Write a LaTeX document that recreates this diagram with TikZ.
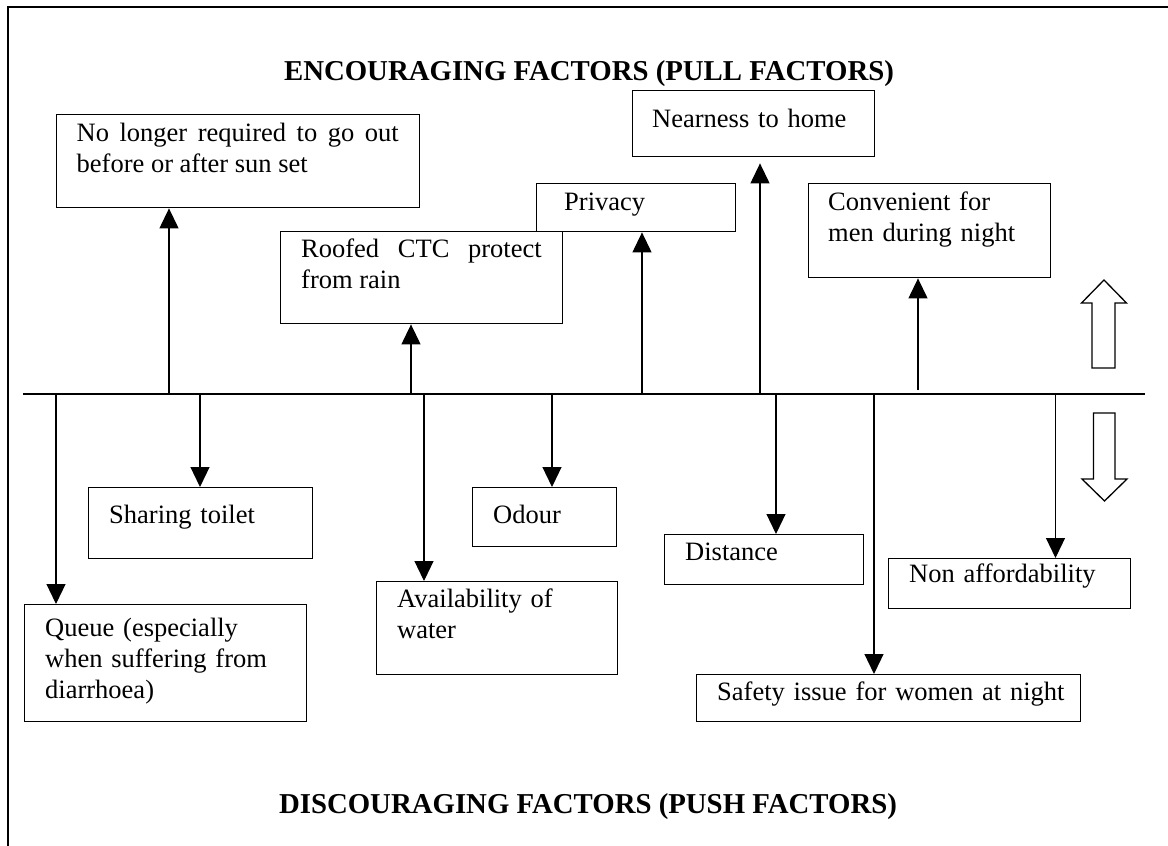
\documentclass[tikz,border=0pt]{standalone}
\usepackage{fontspec}
\setmainfont{Liberation Serif}
\usetikzlibrary{arrows.meta}
\begin{document}
\begin{tikzpicture}[x=1pt,y=-1pt,
  factor/.style={draw, line width=1.4pt, inner sep=0pt, anchor=north west},
  ftext/.style={anchor=base west, inner sep=0pt, font=\fontsize{26.5}{31}\selectfont, text width=#1, align=left},
  jtext/.style={ftext=#1, align=justify},
  heading/.style={font=\fontsize{28.8}{33}\selectfont\bfseries, inner sep=0pt, anchor=base},
  conn/.style={line width=1.2pt, -{Triangle[length=20pt,width=19pt]}},
  rule/.style={line width=1.3pt},
  hollow/.style={line width=1.3pt, line join=miter}
]
\useasboundingbox (0,0) rectangle (1168,846);

% frame
\coordinate (fb) at (8,846);
\coordinate (ftl) at (8,7);
\coordinate (ftr) at (1168,7);
\draw[line width=1.3pt] (fb) -- (ftl) -- (ftr);

% headings
\node[heading] (pull) at (589,80) {ENCOURAGING FACTORS (PULL FACTORS)};
\node[heading] (push) at (588,813) {DISCOURAGING FACTORS (PUSH FACTORS)};

% central axis
\coordinate (axL) at (23,394);
\coordinate (axR) at (1145,394);
\draw[rule] (axL) -- (axR);

% pull factors (above the axis)
\node[factor, minimum width=363pt, minimum height=93pt] (nolonger) at (56,114) {};
\node[jtext=322pt] (nolongerT) at (76.5,141) {No longer required to go out\linebreak before or after sun set};

\node[factor, minimum width=199pt, minimum height=48pt] (privacy) at (536,183) {};
\node[ftext=160pt] (privacyT) at (564,210) {Privacy};

\node[factor, minimum width=282pt, minimum height=92pt] (roofed) at (280,231) {};
\node[jtext=240.5pt] (roofedT) at (301,257) {Roofed CTC protect\linebreak from rain};

\node[factor, minimum width=242pt, minimum height=66pt] (nearness) at (632,90) {};
\node[ftext=215pt] (nearnessT) at (652,127) {Nearness to home};

\node[factor, minimum width=242pt, minimum height=94pt] (convenient) at (808,183) {};
\node[ftext=215pt] (convenientT) at (828,210) {Convenient for\\ men during night};

% push factors (below the axis)
\node[factor, minimum width=282pt, minimum height=117pt] (queue) at (23.7,604) {};
\node[ftext=250pt] (queueT) at (45,636) {Queue (especially\\ when suffering from\\ diarrhoea)};

\node[factor, minimum width=224pt, minimum height=71pt] (sharing) at (88,487) {};
\node[ftext=200pt] (sharingT) at (109,523) {Sharing toilet};

\node[factor, minimum width=241pt, minimum height=93pt] (avail) at (376,581) {};
\node[ftext=215pt] (availT) at (397,607) {Availability of\\ water};

\node[factor, minimum width=144pt, minimum height=59pt] (odour) at (472,487) {};
\node[ftext=120pt] (odourT) at (493,523) {Odour};

\node[factor, minimum width=199pt, minimum height=50pt] (distance) at (664,534) {};
\node[ftext=170pt] (distanceT) at (685,560) {Distance};

\node[factor, minimum width=384pt, minimum height=47pt] (safety) at (696,674) {};
\node[ftext=360pt] (safetyT) at (717,700) {Safety issue for women at night};

\node[factor, minimum width=242pt, minimum height=50pt] (nonaff) at (888,558) {};
\node[ftext=215pt] (nonaffT) at (909,582) {Non affordability};

% connector roots on the axis
\coordinate (u1) at (169,394);
\coordinate (u2) at (411,394);
\coordinate (u3) at (642,394);
\coordinate (u4) at (760,394);
\coordinate (u5) at (918,390);
\coordinate (d1) at (56,394);
\coordinate (d2) at (200,394);
\coordinate (d3) at (424,394);
\coordinate (d4) at (552,394);
\coordinate (d5) at (776,394);
\coordinate (d6) at (874,394);
\coordinate (d7) at (1055.5,394);

% upward connectors
\draw[conn] (u1) -- (u1 |- nolonger.south);
\draw[conn] (u2) -- (u2 |- roofed.south);
\draw[conn] (u3) -- (u3 |- privacy.south);
\draw[conn, shorten >=6pt] (u4) -- (u4 |- nearness.south);
\draw[conn] (u5) -- (u5 |- convenient.south);

% downward connectors
\draw[conn] (d1) -- (d1 |- queue.north);
\draw[conn] (d2) -- (d2 |- sharing.north);
\draw[conn] (d3) -- (d3 |- avail.north);
\draw[conn] (d4) -- (d4 |- odour.north);
\draw[conn] (d5) -- (d5 |- distance.north);
\draw[conn] (d6) -- (d6 |- safety.north);
\draw[conn] (d7) -- (d7 |- nonaff.north);

% hollow direction arrows
\draw[hollow] (1092,368) -- (1092,303) -- (1081.5,303) -- (1104,280) -- (1126.5,303) -- (1115,303) -- (1115,368) -- cycle;
\draw[hollow] (1093.5,413) -- (1115,413) -- (1115,479) -- (1127,479) -- (1104.5,501) -- (1082,479) -- (1093.5,479) -- cycle;
\end{tikzpicture}
\end{document}
